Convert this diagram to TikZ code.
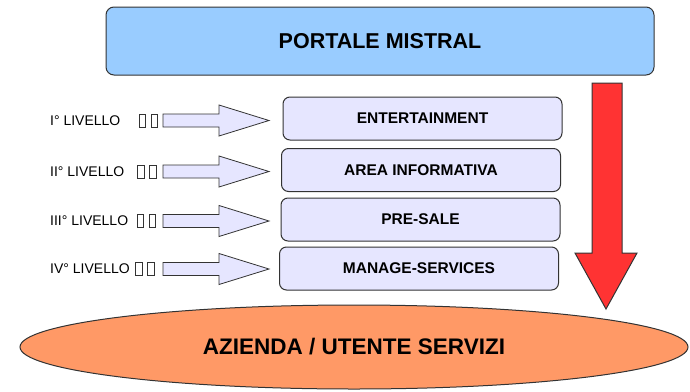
\documentclass[tikz,border=0pt]{standalone}
\usepackage{fontspec}
\setmainfont{Liberation Sans}
\usetikzlibrary{shapes.geometric}
\definecolor{portalblue}{HTML}{99CCFF}
\definecolor{levelfill}{HTML}{E6E6FF}
\definecolor{edgegray}{HTML}{333333}
\definecolor{arrowred}{HTML}{FF3333}
\definecolor{orangefill}{HTML}{FF9966}
\tikzset{
  portal/.style={draw=edgegray, line width=1pt, fill=portalblue, rounded corners=8pt,
    minimum width=548pt, minimum height=68pt, inner sep=0pt,
    font=\fontsize{21.5}{25}\selectfont\bfseries},
  levelbox/.style={draw=edgegray, line width=1pt, fill=levelfill, rounded corners=7pt,
    minimum width=279pt, minimum height=43pt, inner sep=0pt,
    font=\fontsize{15.5}{18}\selectfont\bfseries},
  base/.style={ellipse, draw=edgegray, line width=1pt, fill=orangefill,
    minimum width=668pt, minimum height=84pt, inner sep=0pt,
    font=\fontsize{22.5}{26}\selectfont\bfseries},
  lvlabel/.style={anchor=west, inner sep=0pt, font=\fontsize{14}{16}\selectfont},
  lvarrow/.style={draw=edgegray, line width=0.8pt, fill=levelfill},
  tofu/.style={draw=edgegray, line width=0.8pt, fill=white},
  bigarrow/.style={draw=edgegray, line width=1pt, fill=arrowred},
}
\begin{document}
\begin{tikzpicture}[x=1pt,y=-1pt]
\useasboundingbox (0,0) rectangle (690,391);
\fill[white] (0,0) rectangle (690,391);

\node[portal] (portale) at (380,41) {PORTALE MISTRAL};

\node[base] (azienda) at (354,347) {AZIENDA / UTENTE SERVIZI};

\node[levelbox] (b1) at (422.5,118.5) {ENTERTAINMENT};
\node[levelbox] (b2) at (421,170) {AREA INFORMATIVA};
\node[levelbox] (b3) at (420.5,219.5) {PRE-SALE};
\node[levelbox] (b4) at (419,268.5) {MANAGE-SERVICES};

% red arrow
\draw[bigarrow] (592,83) -- (622,83) -- (622,253) -- (637,253) -- (606,309)
  -- (575,253) -- (592,253) -- cycle;

% level labels, tofu boxes and arrows
\foreach \lab/\yy/\tx in {I° LIVELLO/120.5/139, II° LIVELLO/171.5/137.5, III° LIVELLO/221/137, IV° LIVELLO/269/135.5}{
  \node[lvlabel] (lab\yy) at (50,\yy) {\lab};
  \draw[tofu] (\tx,\yy-6.5) rectangle ++(6.5,13);
  \draw[tofu] (\tx+12,\yy-6.5) rectangle ++(6.5,13);
  \draw[lvarrow] (163,\yy-6.5) -- (219,\yy-6.5) -- (219,\yy-15.5) -- (269,\yy)
    -- (219,\yy+15.5) -- (219,\yy+6.5) -- (163,\yy+6.5) -- cycle;
}
\end{tikzpicture}
\end{document}
